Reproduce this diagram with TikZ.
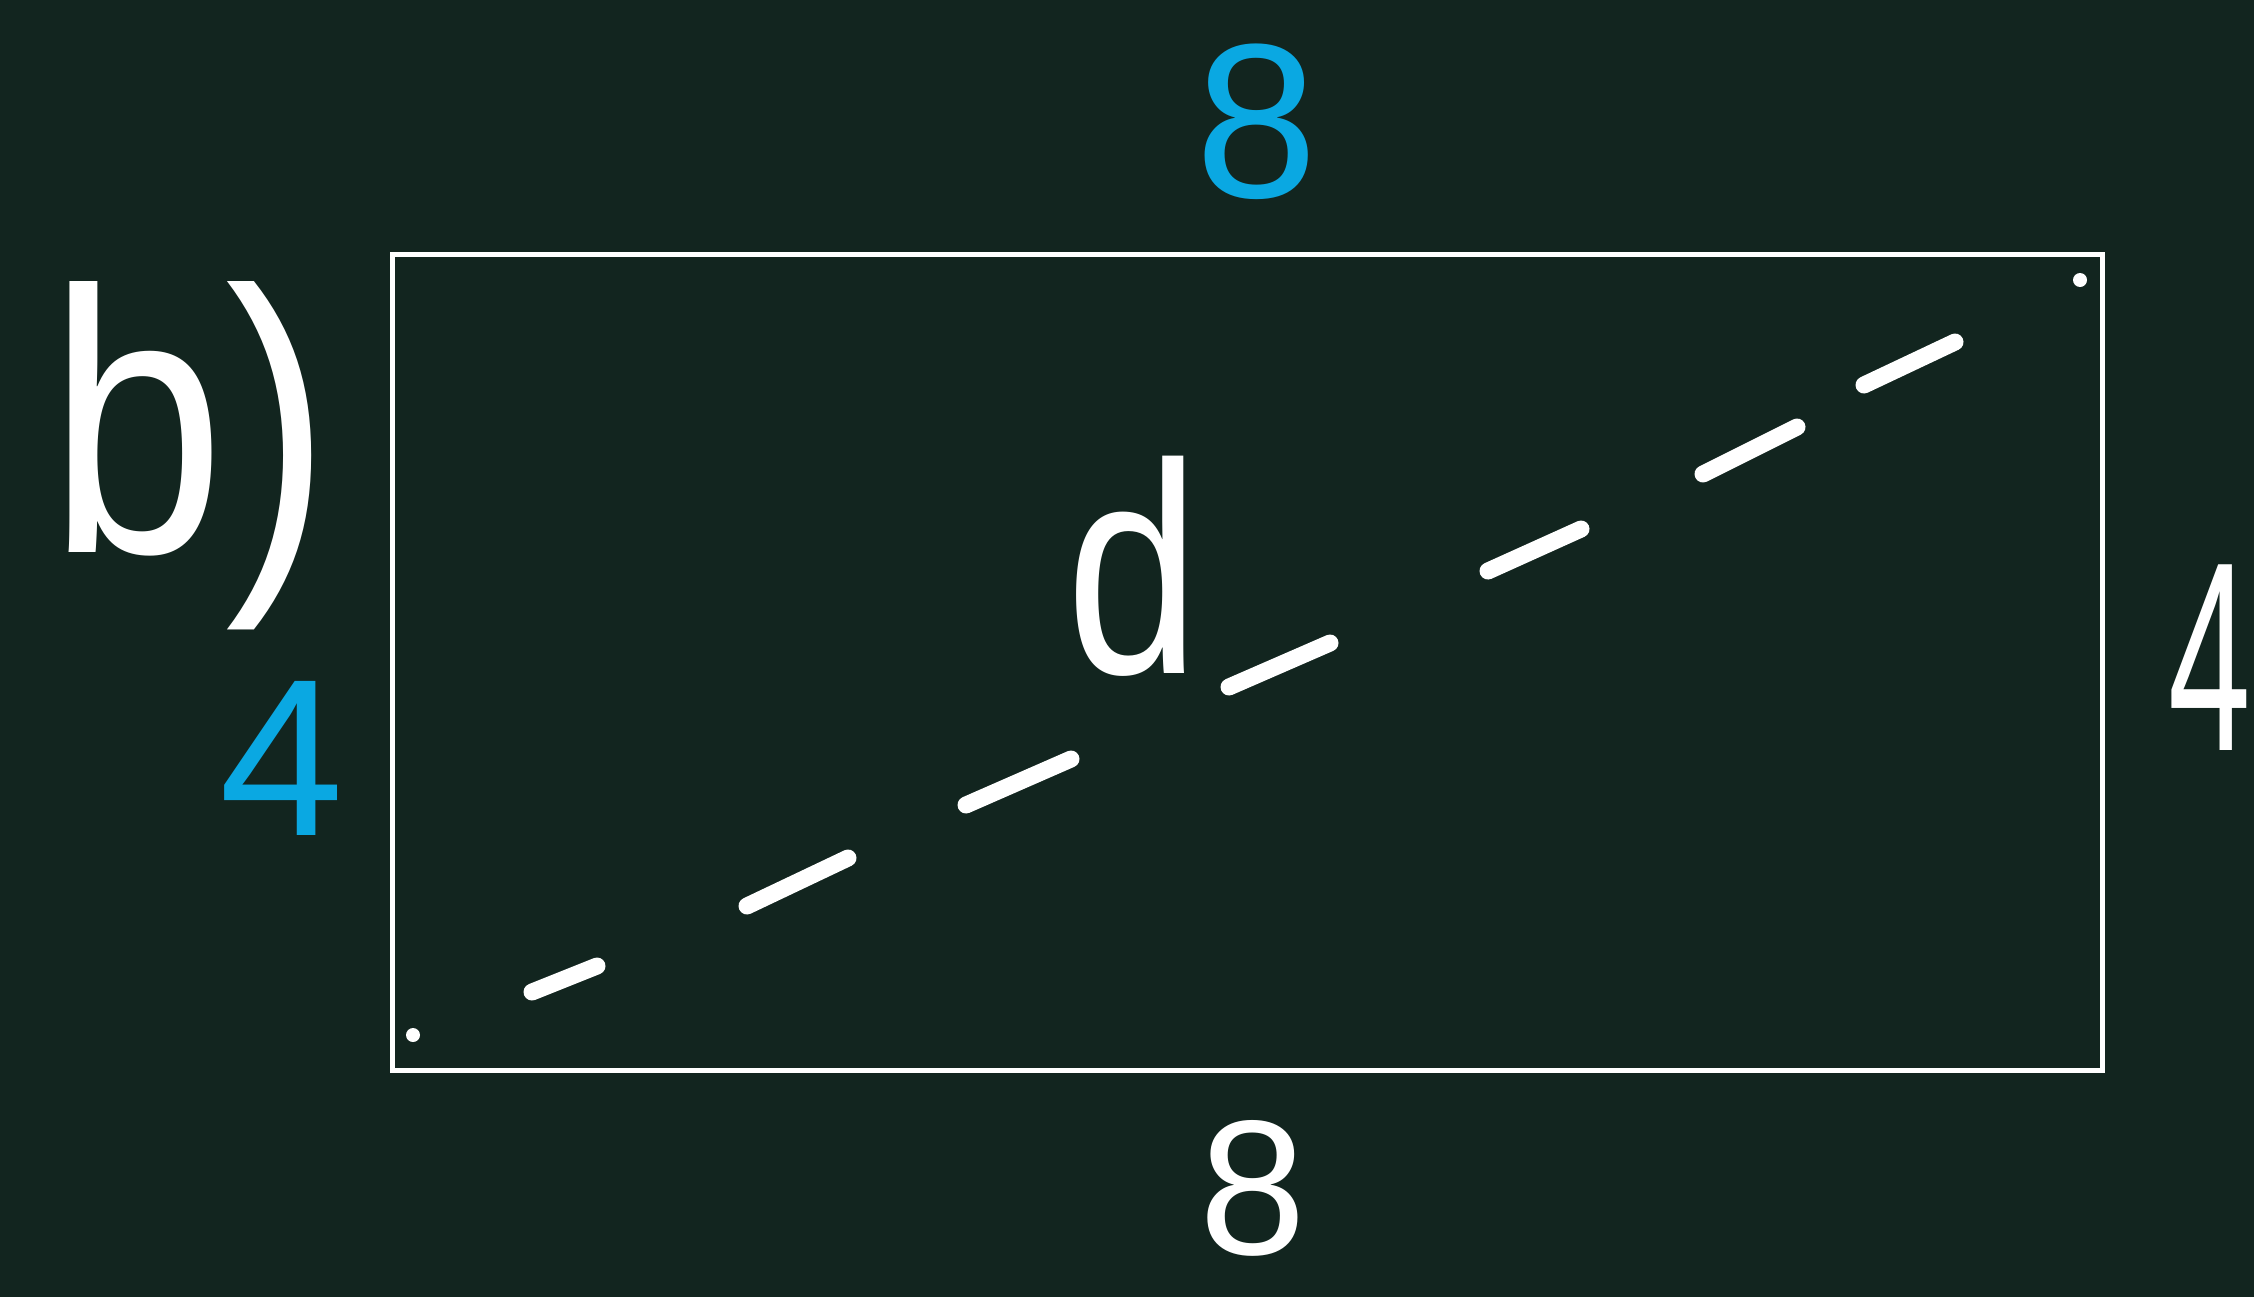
\documentclass[tikz,border=0pt]{standalone}
\usepackage{fontspec}
\setmainfont{Liberation Sans}
\definecolor{board}{HTML}{12251F}
\definecolor{chalkblue}{HTML}{0AA8E2}
\begin{document}
\begin{tikzpicture}[x=0.5pt,y=-0.5pt,
  lbl/.style={inner sep=0pt, text=white, anchor=center},
  bluelbl/.style={lbl, text=chalkblue},
  chalkline/.style={draw=white, line width=2.5pt},
  dashseg/.style={draw=white, line width=8.5pt, line cap=round},
  dotmark/.style={fill=white}]
\useasboundingbox (0,0) rectangle (2254,1296);
\fill[board] (-20,-20) rectangle (2274,1316);
% rectangle
\coordinate (tl) at (392,254);
\coordinate (br) at (2102,1070);
\draw[chalkline] (tl) rectangle (br);
% corner dots
\coordinate (p0) at (413,1035);
\coordinate (p8) at (2080,280);
\fill[dotmark] (p0) circle (7);
\fill[dotmark] (p8) circle (7);
% dashed diagonal
\coordinate (a1) at (532,992);  \coordinate (b1) at (597,966);
\coordinate (a2) at (747,906);  \coordinate (b2) at (848,858);
\coordinate (a3) at (966,805);  \coordinate (b3) at (1071,759);
\coordinate (a4) at (1229,687); \coordinate (b4) at (1330,643);
\coordinate (a5) at (1488,571); \coordinate (b5) at (1581,529);
\coordinate (a6) at (1703,474); \coordinate (b6) at (1797,427);
\coordinate (a7) at (1864,385); \coordinate (b7) at (1955,342);
\foreach \i in {1,...,7} \draw[dashseg] (a\i) -- (b\i);
% labels
\node[bluelbl, font=\fontsize{110pt}{110pt}\selectfont] (top8) at (1257,122) {8};
\node[lbl, font=\fontsize{96pt}{96pt}\selectfont] (bot8) at (1253,1188) {8};
\node[bluelbl, font=\fontsize{112pt}{112pt}\selectfont] (left4) at (282,758) {4};
\node[lbl, font=\fontsize{135pt}{135pt}\selectfont, xscale=0.55] (right4) at (2210,658) {4};
\node[lbl, font=\fontsize{150pt}{150pt}\selectfont, xscale=0.8] (dlbl) at (1133,566) {d};
\node[lbl, font=\fontsize{187pt}{187pt}\selectfont, xscale=0.85] (part) at (190,456) {b)};
\end{tikzpicture}
\end{document}
